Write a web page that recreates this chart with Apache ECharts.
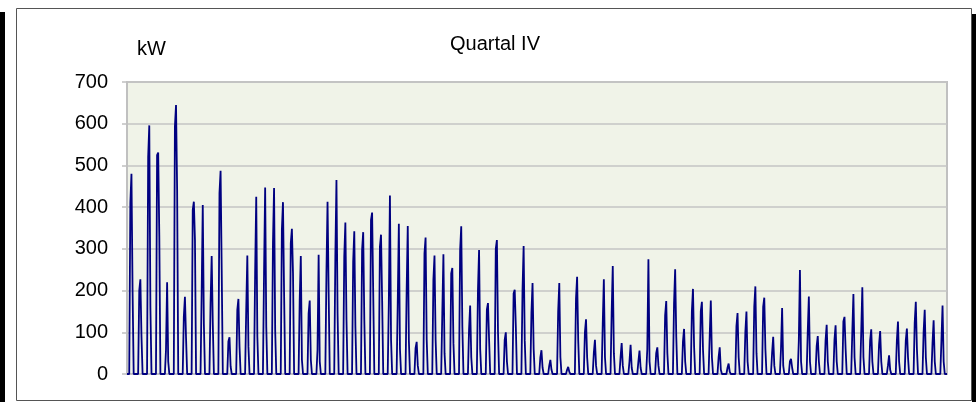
<!DOCTYPE html>
<html>
<head>
<meta charset="utf-8">
<script src="https://cdn.jsdelivr.net/npm/echarts@6/dist/echarts.min.js"></script>
<style>
    html, body { margin: 0; padding: 0; background: #fff; }
    #chart { width: 976px; height: 402px; }
</style>
</head>
<body>
<div id="chart"></div>
<script>
// Quartal IV, one spike per day (92 days), kW
var peakKw = [480, 227, 596, 531, 220, 645, 185, 413, 405, 283,
    487, 88, 180, 284, 425, 447, 446, 412, 348, 283,
    176, 286, 413, 465, 363, 342, 340, 387, 334, 428,
    360, 355, 77, 327, 284, 287, 254, 354, 164, 297,
    170, 321, 100, 202, 307, 218, 57, 34, 218, 17,
    233, 131, 82, 227, 259, 74, 70, 56, 275, 64,
    175, 251, 108, 204, 173, 176, 64, 25, 146, 150,
    210, 183, 89, 158, 36, 249, 186, 91, 118, 117,
    137, 192, 208, 107, 103, 45, 126, 109, 173, 154,
    129, 164];
var morningKw = [410, 200, 520, 525, 58, 593, 137, 393, 193, 170,
    433, 78, 153, 153, 241, 241, 313, 345, 313, 177,
    145, 58, 241, 281, 281, 269, 297, 369, 305, 170,
    170, 200, 62, 289, 225, 146, 241, 297, 106, 200,
    154, 300, 82, 193, 201, 146, 40, 20, 150, 10,
    180, 100, 50, 120, 146, 40, 30, 30, 60, 50,
    140, 169, 78, 150, 150, 90, 40, 15, 114, 100,
    161, 161, 50, 60, 30, 80, 100, 66, 80, 82,
    126, 100, 100, 80, 70, 20, 80, 80, 122, 100,
    74, 80];
var afternoonKw = [200, 90, 160, 330, 30, 441, 86, 321, 120, 121,
    250, 18, 65, 65, 90, 114, 105, 193, 241, 34,
    34, 30, 193, 145, 130, 114, 130, 193, 177, 82,
    60, 80, 20, 82, 82, 50, 74, 114, 40, 60,
    82, 100, 30, 114, 80, 60, 15, 10, 40, 5,
    80, 40, 20, 40, 50, 20, 15, 15, 30, 20,
    50, 90, 30, 66, 58, 40, 10, 5, 40, 30,
    50, 60, 20, 20, 15, 30, 30, 30, 30, 30,
    60, 40, 40, 30, 30, 10, 30, 40, 60, 40,
    30, 30];
var yTicks = [0, 100, 200, 300, 400, 500, 600, 700];

var fontFam = '"Liberation Sans", Arial, sans-serif';

// 3-hourly points per day: night zeros, morning, noon peak, afternoon
var seriesData = [];
for (var d = 0; d < peakKw.length; d++) {
    var day = [0, 0, 0, morningKw[d], peakKw[d], afternoonKw[d], 0, 0];
    for (var h = 0; h < day.length; h++) {
        seriesData.push([d + h * 3 / 24, day[h]]);
    }
}
seriesData.push([peakKw.length, 0]);

var myChart = echarts.init(document.getElementById('chart'));

var option = {
    animation: false,
    backgroundColor: '#ffffff',
    title: [{
        text: 'Quartal IV',
        left: 495,
        top: 34,
        textAlign: 'center',
        padding: 0,
        textStyle: { fontFamily: fontFam, fontSize: 20, fontWeight: 'normal', color: '#000' }
    }, {
        text: 'kW',
        left: 137,
        top: 39,
        padding: 0,
        textStyle: { fontFamily: fontFam, fontSize: 20, fontWeight: 'normal', color: '#000' }
    }],
    graphic: [
        { type: 'rect', shape: { x: 0, y: 12, width: 5, height: 390 }, style: { fill: '#000' } },
        { type: 'rect', shape: { x: 16.5, y: 8.5, width: 955, height: 392 }, style: { fill: 'none', stroke: '#555', lineWidth: 1 } },
        { type: 'rect', shape: { x: 972, y: 14, width: 4, height: 388 }, style: { fill: '#000' } }
    ],
    grid: {
        left: 127,
        top: 82,
        width: 820,
        height: 292,
        show: true,
        backgroundColor: '#f0f3e8',
        borderColor: '#c0c0c0',
        borderWidth: 2
    },
    xAxis: {
        type: 'value',
        min: 0,
        max: peakKw.length,
        axisLine: { show: false },
        axisTick: { show: false },
        axisLabel: { show: false },
        splitLine: { show: false }
    },
    yAxis: {
        type: 'value',
        min: yTicks[0],
        max: yTicks[yTicks.length - 1],
        interval: 100,
        axisLine: { show: true, lineStyle: { color: '#c0c0c0', width: 2 } },
        axisTick: { show: true, length: 5, lineStyle: { color: '#c0c0c0', width: 1.5 } },
        axisLabel: { margin: 19, fontFamily: fontFam, fontSize: 20, color: '#000' },
        splitLine: { show: true, lineStyle: { color: '#c4c4c4', width: 1.5 } }
    },
    series: [{
        type: 'line',
        data: seriesData,
        showSymbol: false,
        sampling: null,
        lineStyle: { color: '#000080', width: 1.8 },
        itemStyle: { color: '#000080' }
    }]
};

myChart.setOption(option, true);
</script>
</body>
</html>
